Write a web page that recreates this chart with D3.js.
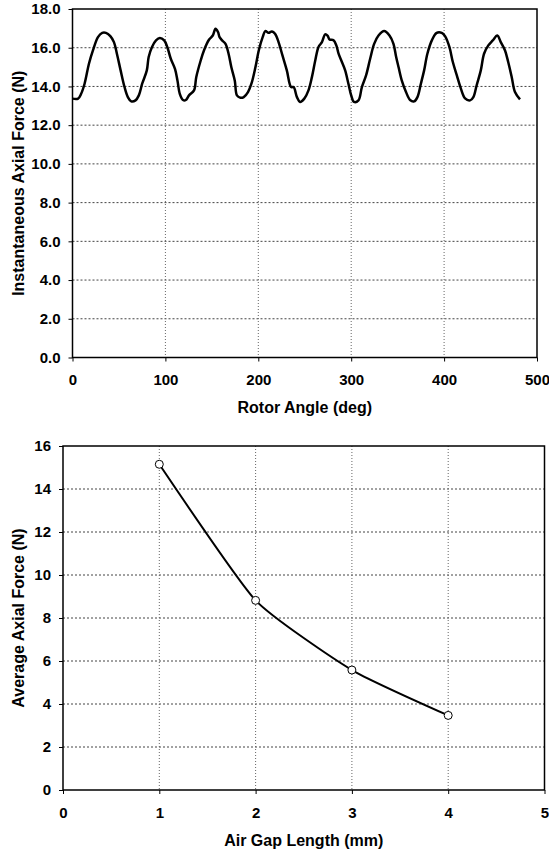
<!DOCTYPE html>
<html>
<head>
<meta charset="utf-8">
<script src="https://cdn.jsdelivr.net/npm/d3@7"></script>
<style>
  body { margin: 0; background: #fff; }
  svg { display: block; font-family: "Liberation Sans", Arial, sans-serif; }
</style>
</head>
<body>
<svg id="chart" width="549" height="854"></svg>
<script>
// top chart: instantaneous axial force vs rotor angle
const rotorAngle = [0, 6, 9.3, 13, 17.7, 22, 27.4, 32, 36, 40.7, 44.6, 47.8, 51.8, 56, 59.6, 63.2, 67.8, 71.4, 75, 80, 82, 85.6, 89.9, 94, 98.7, 102, 105.8, 110.4, 113, 115.5, 119, 122, 125.4, 130.8, 133.2, 138, 141.5, 146.9, 151, 154, 156.6, 158.3, 161, 164.7, 168, 171, 174.7, 177, 180.8, 184.3, 188.9, 192.6, 196.9, 200.5, 204.7, 207.6, 211, 214.7, 218, 221.8, 226, 230.7, 235.3, 238, 241.6, 245, 249.5, 254, 257.7, 261.3, 264.8, 268.5, 272, 274.5, 276.7, 281, 284, 286.4, 290, 293.5, 297, 300, 303, 307.8, 311.5, 316, 320.4, 324.7, 329.4, 335.5, 341.2, 345.5, 348.4, 351, 354.5, 359, 363.4, 367.7, 371.3, 375, 378.5, 382, 386.8, 392, 397.5, 401, 405.7, 409.4, 413.7, 418, 422.6, 428, 431.5, 435, 439.5, 443, 447.6, 452.4, 457.3, 461, 465.6, 469, 472.8, 476.3, 481.7];
const axialForce = [13.37, 13.37, 13.62, 14.14, 15.17, 15.86, 16.55, 16.77, 16.77, 16.6, 16.29, 15.69, 14.83, 13.97, 13.45, 13.23, 13.28, 13.54, 14.14, 14.83, 15.52, 16.04, 16.38, 16.5, 16.38, 16.04, 15.43, 14.9, 14.3, 13.62, 13.3, 13.3, 13.54, 13.8, 14.48, 15.34, 15.86, 16.41, 16.63, 16.98, 16.81, 16.55, 16.38, 16.2, 15.69, 14.99, 14.3, 13.54, 13.42, 13.45, 13.71, 14.14, 14.99, 15.86, 16.55, 16.86, 16.77, 16.84, 16.72, 16.29, 15.6, 14.83, 13.97, 13.97, 13.45, 13.2, 13.37, 13.8, 14.48, 15.34, 16.04, 16.29, 16.69, 16.63, 16.43, 16.38, 16.12, 15.69, 15.26, 14.83, 14.14, 13.54, 13.2, 13.28, 13.97, 14.57, 15.43, 16.2, 16.63, 16.86, 16.63, 16.2, 15.52, 14.99, 14.3, 13.71, 13.3, 13.23, 13.45, 14.14, 14.83, 15.69, 16.38, 16.77, 16.77, 16.6, 16.04, 15.26, 14.57, 13.9, 13.38, 13.28, 13.45, 14.05, 14.83, 15.69, 16.12, 16.38, 16.63, 16.29, 15.86, 15.26, 14.48, 13.71, 13.33];
const angleTicks = [0, 100, 200, 300, 400, 500];
const forceTicks = [0, 2, 4, 6, 8, 10, 12, 14, 16, 18];

// bottom chart: average axial force vs air gap
const airGap = [1, 2, 3, 4];
const avgForce = [15.15, 8.82, 5.58, 3.47];
const gapTicks = [0, 1, 2, 3, 4, 5];
const avgTicks = [0, 2, 4, 6, 8, 10, 12, 14, 16];

const svg = d3.select('#chart');

function drawPanel(cfg) {
    const x = d3.scaleLinear(cfg.xDomain, [cfg.left, cfg.right]);
    const y = d3.scaleLinear(cfg.yDomain, [cfg.bottom, cfg.top]);
    const g = svg.append('g');

    // grid
    g.append('g').selectAll('line')
        .data(cfg.yTicks.filter(d => d > cfg.yDomain[0] && d < cfg.yDomain[1]))
        .join('line')
        .attr('x1', cfg.left).attr('x2', cfg.right)
        .attr('y1', d => y(d)).attr('y2', d => y(d))
        .attr('stroke', '#444').attr('stroke-width', 1)
        .attr('stroke-dasharray', '2,2');
    g.append('g').selectAll('line')
        .data(cfg.xTicks.filter(d => d > cfg.xDomain[0] && d < cfg.xDomain[1]))
        .join('line')
        .attr('x1', d => x(d)).attr('x2', d => x(d))
        .attr('y1', cfg.top).attr('y2', cfg.bottom)
        .attr('stroke', '#666').attr('stroke-width', 1)
        .attr('stroke-dasharray', '1,2');

    // axes
    const xAxis = g.append('g')
        .attr('transform', `translate(0,${cfg.bottom})`)
        .call(d3.axisBottom(x).tickValues(cfg.xTicks).tickFormat(cfg.xFormat).tickSizeOuter(0).tickSize(4).tickPadding(13));
    const yAxis = g.append('g')
        .attr('transform', `translate(${cfg.left},0)`)
        .call(d3.axisLeft(y).tickValues(cfg.yTicks).tickFormat(cfg.yFormat).tickSizeOuter(0).tickSize(4).tickPadding(8));
    [xAxis, yAxis].forEach(a => {
        a.select('.domain').remove();
        a.selectAll('.tick line').attr('stroke', '#000');
        a.selectAll('.tick text')
            .attr('fill', '#000')
            .attr('font-size', 15)
            .attr('font-weight', 'bold')
            .attr('font-family', '"Liberation Sans", Arial, sans-serif');
    });

    // frame
    g.append('rect')
        .attr('x', cfg.left).attr('y', cfg.top)
        .attr('width', cfg.right - cfg.left).attr('height', cfg.bottom - cfg.top)
        .attr('fill', 'none').attr('stroke', '#000').attr('stroke-width', 1.5);

    // titles
    g.append('text')
        .attr('x', (cfg.left + cfg.right) / 2).attr('y', cfg.xTitleY)
        .attr('text-anchor', 'middle')
        .attr('font-size', 16).attr('font-weight', 'bold')
        .text(cfg.xTitle);
    g.append('text')
        .attr('transform', `translate(${cfg.yTitleX},${(cfg.top + cfg.bottom) / 2}) rotate(-90)`)
        .attr('text-anchor', 'middle')
        .attr('font-size', 16).attr('font-weight', 'bold')
        .text(cfg.yTitle);

    return { g, x, y };
}

// top panel
const topPanel = drawPanel({
    left: 72.5, right: 537, top: 9, bottom: 357.5,
    xDomain: [0, 500], yDomain: [0, 18],
    xTicks: angleTicks, yTicks: forceTicks,
    xFormat: d3.format('d'), yFormat: d3.format('.1f'),
    xTitle: 'Rotor Angle (deg)', xTitleY: 413,
    yTitle: 'Instantaneous Axial Force (N)', yTitleX: 24
});
const wave = d3.line()
    .x((d, i) => topPanel.x(rotorAngle[i]))
    .y(d => topPanel.y(d))
    .curve(d3.curveCatmullRom);
topPanel.g.append('path')
    .datum(axialForce)
    .attr('d', wave)
    .attr('fill', 'none').attr('stroke', '#000').attr('stroke-width', 2.5)
    .attr('stroke-linejoin', 'round');

// bottom panel
const botPanel = drawPanel({
    left: 63, right: 544.5, top: 446, bottom: 790,
    xDomain: [0, 5], yDomain: [0, 16],
    xTicks: gapTicks, yTicks: avgTicks,
    xFormat: d3.format('d'), yFormat: d3.format('d'),
    xTitle: 'Air Gap Length (mm)', xTitleY: 846,
    yTitle: 'Average Axial Force (N)', yTitleX: 24
});
const avgLine = d3.line()
    .x((d, i) => botPanel.x(airGap[i]))
    .y(d => botPanel.y(d))
    .curve(d3.curveCardinal.tension(0.5));
botPanel.g.append('path')
    .datum(avgForce)
    .attr('d', avgLine)
    .attr('fill', 'none').attr('stroke', '#000').attr('stroke-width', 2);
botPanel.g.selectAll('circle')
    .data(avgForce)
    .join('circle')
    .attr('cx', (d, i) => botPanel.x(airGap[i]))
    .attr('cy', d => botPanel.y(d))
    .attr('r', 4)
    .attr('fill', '#fff').attr('stroke', '#000').attr('stroke-width', 1);
</script>
</body>
</html>
